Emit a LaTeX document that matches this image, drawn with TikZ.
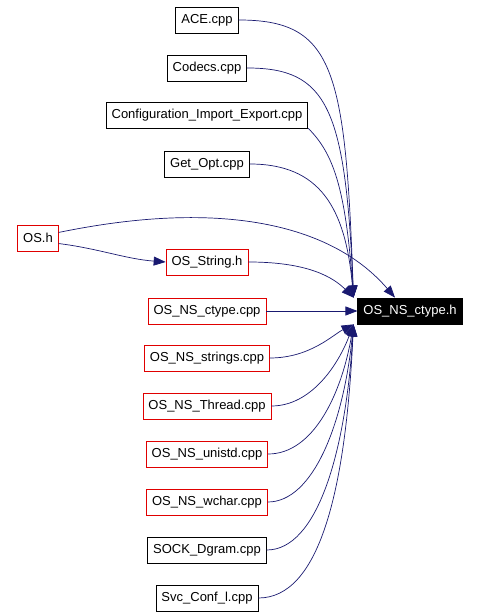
\documentclass[tikz,border=0pt]{standalone}
\usepackage{fontspec}
\setmainfont{Liberation Sans}
\usetikzlibrary{arrows.meta}
\definecolor{edgeblue}{HTML}{191970}
\definecolor{inclred}{HTML}{E00000}

\begin{document}
\begin{tikzpicture}[x=1pt,y=1pt,
  file/.style={draw=black, line width=0.8pt, minimum height=26pt, inner xsep=5.5pt, inner ysep=0pt, font=\fontsize{13}{15}\selectfont},
  redfile/.style={file, draw=inclred},
  main/.style={file, fill=black, text=white},
  dep/.style={edgeblue, line width=0.7pt, -{Triangle[length=12pt,width=9pt]}}]
\useasboundingbox (0,0) rectangle (480,616);
% Nodes
\node[file] (ace) at (207,596) {ACE.cpp};
\node[file] (cod) at (207,548) {Codecs.cpp};
\node[file] (cfg) at (207,501) {Configuration\_Import\_Export.cpp};
\node[file] (opt) at (207,452) {Get\_Opt.cpp};
\node[redfile] (osh) at (38,378) {OS.h};
\node[redfile] (str) at (207,354) {OS\_String.h};
\node[redfile] (ccp) at (207,305) {OS\_NS\_ctype.cpp};
\node[redfile] (sng) at (207,258) {OS\_NS\_strings.cpp};
\node[redfile] (thr) at (207,210) {OS\_NS\_Thread.cpp};
\node[redfile] (uni) at (207,162) {OS\_NS\_unistd.cpp};
\node[redfile] (wch) at (207,114) {OS\_NS\_wchar.cpp};
\node[file] (dgr) at (207,66) {SOCK\_Dgram.cpp};
\node[file] (svc) at (207,18) {Svc\_Conf\_l.cpp};
\node[main] (tgt) at (410,305) {OS\_NS\_ctype.h};
\coordinate (tin) at ([xshift=-4pt]tgt.north west);
\coordinate (bin) at ([xshift=-4pt]tgt.south west);
\coordinate (oin) at ([xshift=-15pt]tgt.north);
% Lines
\draw[dep] (ace.east) .. controls +(95,0) and +(-8,230) .. (tin);
\draw[dep] (cod.east) .. controls +(80,0) and +(-8,190) .. (tin);
\draw[dep] (cfg.south east) .. controls +(25,-25) and +(-8,110) .. (tin);
\draw[dep] (opt.east) .. controls +(70,0) and +(-8,90) .. (tin);
\draw[dep] (osh.15) .. controls +(170,35) and +(-60,70) .. (oin);
\draw[dep] (osh.-15) .. controls +(40,-5) and +(-40,3) .. (str.west);
\draw[dep] (str.east) .. controls +(50,0) and +(-25,25) .. (tin);
\draw[dep] (ccp.east) -- (tgt.west);
\draw[dep] (sng.east) .. controls +(40,0) and +(-20,-10) .. (bin);
\draw[dep] (thr.east) .. controls +(40,0) and +(-15,-40) .. (bin);
\draw[dep] (uni.east) .. controls +(45,0) and +(-12,-70) .. (bin);
\draw[dep] (wch.east) .. controls +(45,0) and +(-10,-100) .. (bin);
\draw[dep] (dgr.east) .. controls +(50,0) and +(-8,-130) .. (bin);
\draw[dep] (svc.east) .. controls +(60,0) and +(-8,-170) .. (bin);
\end{tikzpicture}
\end{document}
